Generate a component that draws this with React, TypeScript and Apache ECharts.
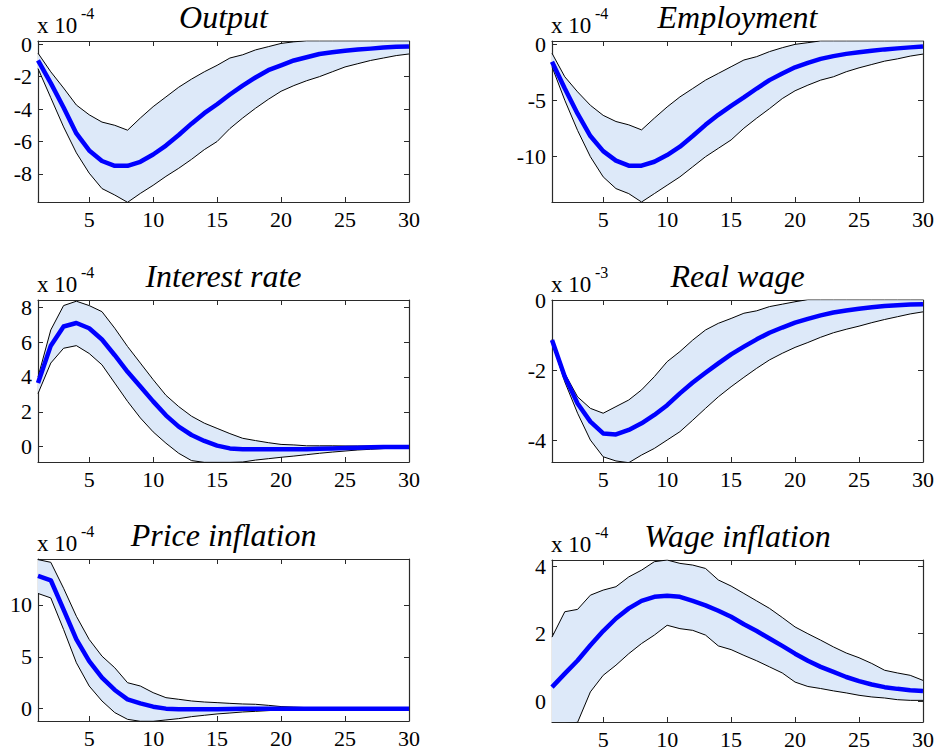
import React, { useEffect, useRef } from "react";
import * as echarts from "echarts";

const periods = [1, 2, 3, 4, 5, 6, 7, 8, 9, 10, 11, 12, 13, 14, 15, 16, 17, 18, 19, 20, 21, 22, 23, 24, 25, 26, 27, 28, 29, 30];
const xTicks = [5, 10, 15, 20, 25, 30];

// Output (x 10^-4)
const outMed = [-1.0, -2.4, -3.9, -5.5, -6.55, -7.2, -7.5, -7.5, -7.25, -6.8, -6.25, -5.6, -4.9, -4.25, -3.7, -3.1, -2.55, -2.05, -1.6, -1.3, -1.0, -0.8, -0.6, -0.5, -0.4, -0.33, -0.27, -0.2, -0.16, -0.14];
const outUp = [-0.55, -1.7, -2.7, -3.75, -4.35, -4.8, -5.0, -5.3, -4.55, -3.85, -3.25, -2.65, -2.15, -1.7, -1.3, -0.85, -0.65, -0.35, -0.15, 0.05, 0.15, 0.21, 0.21, 0.21, 0.21, 0.21, 0.21, 0.21, 0.21, 0.21];
const outLo = [-1.5, -3.3, -5.1, -6.7, -7.95, -8.9, -9.3, -9.75, -9.2, -8.7, -8.15, -7.65, -7.1, -6.5, -6.0, -5.2, -4.55, -3.95, -3.4, -2.9, -2.55, -2.25, -2.0, -1.7, -1.4, -1.2, -1.0, -0.85, -0.7, -0.6];

// Employment (x 10^-4)
const empMed = [-1.55, -3.95, -6.2, -8.2, -9.55, -10.4, -10.85, -10.85, -10.5, -9.9, -9.15, -8.2, -7.2, -6.3, -5.5, -4.75, -3.95, -3.2, -2.6, -2.05, -1.65, -1.3, -1.05, -0.85, -0.7, -0.57, -0.45, -0.36, -0.27, -0.2];
const empUp = [-0.8, -2.9, -4.25, -5.45, -6.35, -6.9, -7.2, -7.65, -6.6, -5.6, -4.7, -3.95, -3.2, -2.6, -2.0, -1.4, -1.1, -0.65, -0.3, 0.0, 0.15, 0.31, 0.31, 0.31, 0.31, 0.31, 0.31, 0.31, 0.31, 0.31];
const empLo = [-2.0, -5.0, -7.7, -10.05, -11.85, -12.9, -13.35, -14.1, -13.35, -12.6, -11.85, -10.95, -10.05, -9.3, -8.55, -7.5, -6.6, -5.75, -4.85, -4.15, -3.65, -3.2, -2.9, -2.45, -2.1, -1.8, -1.5, -1.3, -1.05, -0.87];

// Interest rate (x 10^-4)
const irMed = [3.65, 5.8, 6.9, 7.1, 6.8, 6.15, 5.25, 4.3, 3.45, 2.6, 1.8, 1.15, 0.67, 0.33, 0.06, -0.1, -0.15, -0.15, -0.15, -0.15, -0.15, -0.15, -0.12, -0.1, -0.08, -0.06, -0.04, -0.02, -0.02, -0.02];
const irUp = [4.0, 6.7, 8.1, 8.35, 8.1, 7.75, 6.8, 5.75, 4.8, 3.85, 2.95, 2.3, 1.75, 1.35, 1.05, 0.75, 0.48, 0.35, 0.23, 0.13, 0.1, 0.05, 0.05, 0.05, 0.04, 0.04, 0.04, 0.02, 0.02, 0.02];
const irLo = [3.05, 4.8, 5.65, 5.8, 5.35, 4.7, 3.65, 2.6, 1.65, 0.85, 0.2, -0.38, -0.8, -0.9, -0.9, -0.9, -0.88, -0.77, -0.69, -0.61, -0.54, -0.46, -0.38, -0.31, -0.25, -0.19, -0.15, -0.11, -0.08, -0.04];

// Real wage (x 10^-3)
const rwMed = [-1.13, -2.18, -2.95, -3.47, -3.81, -3.84, -3.71, -3.52, -3.28, -3.0, -2.66, -2.35, -2.07, -1.8, -1.54, -1.32, -1.11, -0.92, -0.77, -0.63, -0.52, -0.42, -0.34, -0.28, -0.23, -0.19, -0.15, -0.13, -0.11, -0.1];
const rwUp = [-1.11, -2.09, -2.76, -3.09, -3.23, -3.04, -2.85, -2.56, -2.18, -1.75, -1.46, -1.13, -0.84, -0.65, -0.51, -0.36, -0.29, -0.17, -0.1, -0.03, 0.03, 0.03, 0.03, 0.03, 0.03, 0.03, 0.03, 0.03, 0.03, 0.03];
const rwLo = [-1.18, -2.33, -3.23, -4.0, -4.48, -4.6, -4.65, -4.43, -4.24, -4.0, -3.76, -3.43, -3.09, -2.76, -2.47, -2.2, -1.94, -1.7, -1.51, -1.34, -1.2, -1.05, -0.92, -0.82, -0.73, -0.63, -0.54, -0.46, -0.38, -0.32];

// Price inflation (x 10^-4)
const piMed = [12.8, 12.37, 9.55, 6.67, 4.58, 2.98, 1.8, 0.9, 0.51, 0.19, 0.0, -0.06, -0.06, -0.06, -0.05, -0.03, 0.0, 0.0, 0.0, 0.0, 0.0, 0.0, 0.0, 0.0, 0.0, 0.0, 0.0, 0.0, 0.0, 0.0];
const piUp = [14.36, 14.1, 11.6, 8.9, 6.67, 5.06, 3.94, 2.5, 2.18, 1.54, 1.06, 0.9, 0.74, 0.64, 0.58, 0.51, 0.45, 0.42, 0.32, 0.2, 0.15, 0.1, 0.08, 0.06, 0.05, 0.04, 0.03, 0.03, 0.02, 0.02];
const piLo = [11.1, 10.67, 7.63, 4.42, 2.18, 0.74, -0.38, -1.03, -1.22, -1.22, -1.09, -0.96, -0.77, -0.64, -0.51, -0.42, -0.32, -0.26, -0.19, -0.13, -0.08, -0.06, -0.05, -0.04, -0.03, -0.02, -0.02, -0.01, -0.01, -0.01];

// Wage inflation (x 10^-4)
const wiMed = [0.42, 0.82, 1.21, 1.66, 2.08, 2.45, 2.75, 2.97, 3.09, 3.12, 3.09, 2.97, 2.84, 2.68, 2.5, 2.28, 2.08, 1.86, 1.64, 1.41, 1.2, 1.02, 0.87, 0.72, 0.6, 0.5, 0.42, 0.37, 0.33, 0.31];
const wiUp = [1.9, 2.65, 2.72, 3.14, 3.29, 3.39, 3.68, 3.88, 4.13, 4.18, 4.08, 4.03, 3.93, 3.59, 3.41, 3.19, 2.97, 2.75, 2.48, 2.2, 2.0, 1.81, 1.61, 1.43, 1.29, 1.12, 0.92, 0.84, 0.77, 0.62];
const wiLo = [-0.65, -0.65, -0.62, 0.28, 0.77, 1.07, 1.41, 1.71, 1.96, 2.25, 2.15, 2.1, 1.96, 1.64, 1.53, 1.36, 1.2, 1.02, 0.84, 0.57, 0.44, 0.38, 0.31, 0.25, 0.18, 0.13, 0.1, 0.05, 0.03, 0.03];

const titles = ["Output", "Employment", "Interest rate", "Real wage", "Price inflation", "Wage inflation"];
const exponents = ["-4", "-4", "-4", "-3", "-4", "-4"];
const yTicks = [
  [-8, -6, -4, -2, 0],
  [-10, -5, 0],
  [0, 2, 4, 6, 8],
  [-4, -2, 0],
  [0, 5, 10],
  [0, 2, 4],
];
const yMin = [-9.73, -14.1, -0.88, -4.63, -1.19, -0.61];
const yMax = [0.2, 0.3, 8.42, 0.02, 14.42, 4.18];
const medians = [outMed, empMed, irMed, rwMed, piMed, wiMed];
const uppers = [outUp, empUp, irUp, rwUp, piUp, wiUp];
const lowers = [outLo, empLo, irLo, rwLo, piLo, wiLo];

const grids = [
  { left: 38, top: 41, width: 371, height: 161 },
  { left: 552, top: 41, width: 371, height: 161 },
  { left: 38, top: 300, width: 371, height: 162 },
  { left: 552, top: 300, width: 371, height: 162 },
  { left: 38, top: 559, width: 371, height: 162 },
  { left: 552, top: 560, width: 371, height: 162 },
];

const SERIF = "'Liberation Serif', 'Times New Roman', serif";
const BAND = "#dde9f9";
const AXIS = "#2a2a2a";

export default function App() {
  const ref = useRef<HTMLDivElement>(null);
  useEffect(() => {
    if (!ref.current) return;
    const chart = echarts.init(ref.current, undefined, { renderer: "svg" });
    const xAxis: any[] = [];
    const yAxis: any[] = [];
    const series: any[] = [];
    const graphic: any[] = [];
    grids.forEach((g, k) => {
      const tickStyle = { show: true, inside: true, length: 5, lineStyle: { color: AXIS, width: 1 } };
      const lineStyle = { color: AXIS, width: 1.2 };
      xAxis.push({
        type: "value", gridIndex: k, min: 1, max: 30, position: "bottom",
        axisLine: { show: true, onZero: false, lineStyle },
        axisTick: { ...tickStyle, customValues: xTicks },
        axisLabel: { customValues: xTicks, color: "#000", fontFamily: SERIF, fontSize: 22, margin: 6, formatter: (v: number) => String(v) },
        splitLine: { show: false },
      });
      xAxis.push({
        type: "value", gridIndex: k, min: 1, max: 30, position: "top",
        axisLine: { show: true, onZero: false, lineStyle },
        axisTick: { ...tickStyle, customValues: xTicks },
        axisLabel: { show: false },
        splitLine: { show: false },
      });
      yAxis.push({
        type: "value", gridIndex: k, min: yMin[k], max: yMax[k], position: "left",
        axisLine: { show: true, onZero: false, lineStyle },
        axisTick: { ...tickStyle, customValues: yTicks[k] },
        axisLabel: { customValues: yTicks[k], color: "#000", fontFamily: SERIF, fontSize: 22, margin: 6, formatter: (v: number) => String(v) },
        splitLine: { show: false },
      });
      yAxis.push({
        type: "value", gridIndex: k, min: yMin[k], max: yMax[k], position: "right",
        axisLine: { show: true, onZero: false, lineStyle },
        axisTick: { ...tickStyle, customValues: yTicks[k] },
        axisLabel: { show: false },
        splitLine: { show: false },
      });
      const xi = 2 * k;
      const yi = 2 * k;
      const lo = lowers[k];
      const up = uppers[k];
      const bandData = periods.map((p, i) => [p, lo[i], up[i]]);
      series.push({
        type: "custom", xAxisIndex: xi, yAxisIndex: yi,
        data: bandData, clip: true, silent: true, z: 1,
        encode: { x: 0, y: [1, 2] },
        renderItem: (params: any, api: any) => {
          if (params.dataIndex !== 0) return null;
          const top = bandData.map((d) => api.coord([d[0], d[2]]));
          const bottom = bandData.map((d) => api.coord([d[0], d[1]])).reverse();
          return {
            type: "polygon",
            shape: { points: top.concat(bottom) },
            style: { fill: BAND, stroke: "none" },
          };
        },
      });
      series.push({
        type: "line", xAxisIndex: xi, yAxisIndex: yi,
        data: periods.map((p, i) => [p, lo[i]]),
        showSymbol: false, symbol: "none", clip: true, silent: true,
        lineStyle: { color: "#000", width: 1 }, z: 2,
      });
      series.push({
        type: "line", xAxisIndex: xi, yAxisIndex: yi,
        data: periods.map((p, i) => [p, up[i]]),
        showSymbol: false, symbol: "none", clip: true, silent: true,
        lineStyle: { color: "#000", width: 1 }, z: 2,
      });
      series.push({
        type: "line", xAxisIndex: xi, yAxisIndex: yi,
        data: periods.map((p, i) => [p, medians[k][i]]),
        showSymbol: false, symbol: "none", clip: true, silent: true,
        lineStyle: { color: "#0000ff", width: 4.5, join: "round" }, z: 3,
      });
      graphic.push({
        type: "text", x: g.left + g.width / 2, y: g.top - 24,
        style: { text: titles[k], font: `italic 32px ${SERIF}`, fill: "#000", textAlign: "center", textVerticalAlign: "middle" },
      });
      graphic.push({
        type: "text", x: g.left - 1, y: g.top - 16,
        style: { text: "x 10", font: `23px ${SERIF}`, fill: "#000", textAlign: "left", textVerticalAlign: "middle" },
      });
      graphic.push({
        type: "text", x: g.left + 43, y: g.top - 28,
        style: { text: exponents[k], font: `16px ${SERIF}`, fill: "#000", textAlign: "left", textVerticalAlign: "middle" },
      });
    });
    chart.setOption({
      animation: false,
      backgroundColor: "#fff",
      grid: grids.map((g) => ({ ...g, containLabel: false, outerBoundsMode: "none" })),
      xAxis,
      yAxis,
      series,
      graphic,
    });
    return () => chart.dispose();
  }, []);
  return (
    <div
      ref={ref}
      style={{ position: "fixed", left: 0, top: 0, width: 938, height: 756, background: "#fff" }}
    />
  );
}
